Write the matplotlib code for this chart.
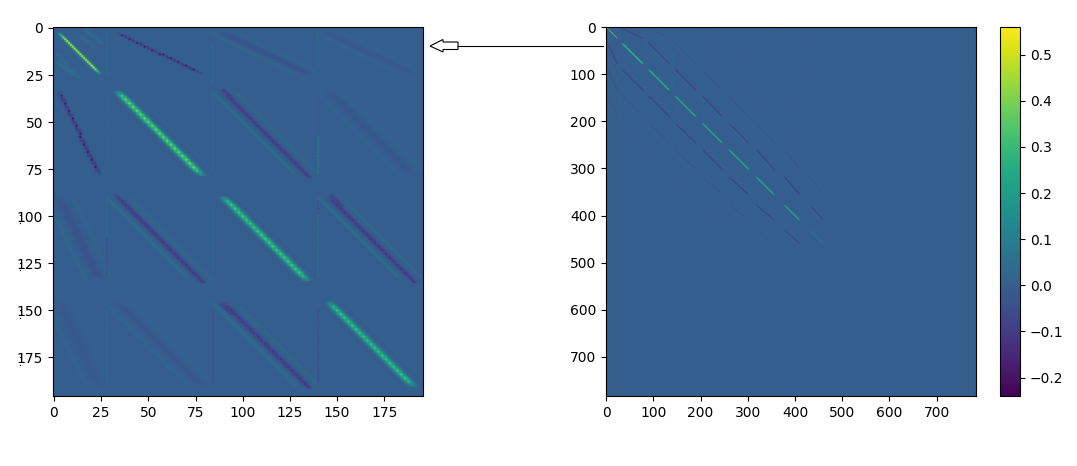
import numpy as np
import matplotlib

matplotlib.use("Agg")
import matplotlib.pyplot as plt
from matplotlib.lines import Line2D
from matplotlib.patches import Polygon

# block spans along the diagonal of the matrix
seg_start = [3, 34, 90, 146, 204, 260, 318, 378, 432]
seg_end = [24, 78, 134, 190, 246, 302, 356, 410, 460]

# peak value of the band in each block, rows then columns
band_levels = [
    [0.48, -0.19, -0.04, -0.02, -0.008, 0.00, 0.00, 0.00, 0.00],
    [-0.20, 0.41, -0.12, -0.03, -0.012, -0.006, 0.00, 0.00, 0.00],
    [-0.04, -0.12, 0.36, -0.13, -0.03, -0.012, -0.006, 0.00, 0.00],
    [-0.02, -0.03, -0.12, 0.34, -0.12, -0.03, -0.012, -0.006, 0.00],
    [-0.008, -0.012, -0.03, -0.12, 0.33, -0.12, -0.03, -0.012, 0.00],
    [0.00, -0.006, -0.012, -0.03, -0.12, 0.33, -0.12, -0.03, -0.008],
    [0.00, 0.00, -0.006, -0.012, -0.03, -0.12, 0.32, -0.12, -0.02],
    [0.00, 0.00, 0.00, -0.006, -0.012, -0.03, -0.12, 0.30, -0.10],
    [0.00, 0.00, 0.00, 0.00, -0.006, -0.008, -0.02, -0.10, 0.06],
]

# shape across a band, in columns from its centre
main_profile = [0.14, 0.45, 0.82, 1.0, 0.82, 0.45, 0.14]
first_profile = [0.35, 1.0, 0.35]
dotted_profile = [0.45, 1.0, 0.45]
near_profile = [0.28, 0.7, 1.0, 0.7, 0.28]
far_profile = [0.3, 0.6, 0.85, 1.0, 0.85, 0.6, 0.3]
checker_weights = [[1.0, 0.82], [0.82, 0.66]]
flat_weights = [[1.0, 1.0], [1.0, 1.0]]
dot_weights = [[1.0, 0.5], [0.6, 0.3]]
end_fade = [0.4, 0.65, 0.85]

# side lobes next to the bands: column offset, fraction of the peak
near_lobes = [(-7, -0.18), (-6, -0.36), (-5, -0.18), (5, -0.1), (6, -0.18), (7, -0.1)]
far_lobes = [(-8, -0.3), (-7, -0.5), (-6, -0.3), (6, -0.15), (7, -0.25), (8, -0.15)]
main_lobes = [(-6, -0.05), (6, -0.05)]

# vertical streaks: column, first row, last row, value
streaks = [
    (28, 3, 25, 0.04), (28, 30, 78, 0.012), (28, 94, 112, 0.035), (28, 112, 132, -0.04),
    (28, 150, 190, 0.02), (84, 10, 30, 0.04), (84, 36, 76, 0.03), (84, 96, 130, 0.035),
    (84, 150, 190, -0.04), (140, 3, 22, 0.03), (140, 36, 56, -0.02), (140, 58, 78, 0.08),
    (140, 92, 100, -0.04), (140, 100, 134, 0.04), (140, 150, 190, -0.04),
    (260, 5, 40, 0.02), (365, 2, 16, 0.05), (365, 20, 60, 0.02), (420, 10, 60, -0.02),
    (420, 90, 120, -0.02),
]
streak_weights = [1.0, 0.45]

# short diagonal marks: row0, row1, col0, col1, value
extra_marks = [
    (1, 8, 17, 25, 0.035), (4, 10, 14, 21, 0.025), (18, 25, 2, 10, 0.04), (20, 26, 6, 13, 0.03),
    (14, 20, 2, 7, 0.025),
    (74, 79, 130, 135, -0.10), (130, 135, 74, 79, -0.10),
    (130, 135, 186, 191, -0.11), (186, 191, 130, 135, -0.11),
    (33, 38, 90, 95, -0.09), (89, 94, 33, 38, -0.08),
    (89, 94, 147, 152, -0.09), (147, 152, 89, 94, -0.09),
]

# stray specks beside the left panel's tick labels, in pixels
speck_x = [20, 20, 20, 20, 20, 20, 20, 20]
speck_y = [215, 223, 263, 270, 310, 318, 357, 365]

xticks_left = [0, 25, 50, 75, 100, 125, 150, 175]
yticks_left = [0, 25, 50, 75, 100, 125, 150, 175]
ticks_right = [0, 100, 200, 300, 400, 500, 600, 700]
cbar_ticks = [-0.2, -0.1, 0.0, 0.1, 0.2, 0.3, 0.4, 0.5]

N = 784
CROP = 196
VMIN = -0.24
VMAX = 0.56


def add_band(mat, r0, r1, c0, c1, level, profile, lobes, weights, fade=()):
    steps = max(r1 - r0, c1 - c0)
    half = len(profile) // 2
    for k in range(steps + 1):
        r = round(r0 + (r1 - r0) * k / steps)
        c = round(c0 + (c1 - c0) * k / steps)
        edge = min(k, steps - k)
        step_level = level * fade[edge] if edge < len(fade) else level
        for off, w in enumerate(profile):
            cc = c + off - half
            value = step_level * w * weights[r % 2][cc % 2]
            if abs(value) > abs(mat[r, cc]):
                mat[r, cc] = value
        for off, frac in lobes:
            cc = c + off
            if abs(step_level * frac) > abs(mat[r, cc]):
                mat[r, cc] = step_level * frac


def build_matrix():
    mat = np.zeros((N, N))
    for i, row in enumerate(band_levels):
        for j, level in enumerate(row):
            if level == 0:
                continue
            weights = checker_weights
            if i == j:
                profile, lobes = main_profile, main_lobes
            elif abs(i - j) == 1:
                profile, lobes = near_profile, near_lobes
            else:
                profile, lobes = far_profile, far_lobes
            if i == 0 and j == 0:
                profile, lobes, weights = first_profile, [], flat_weights
            if (i, j) in [(0, 1), (1, 0)]:
                profile, lobes, weights = dotted_profile, [], dot_weights
            add_band(mat, seg_start[i], seg_end[i], seg_start[j], seg_end[j], level,
                     profile, lobes, weights, end_fade)
    for r0, r1, c0, c1, value in extra_marks:
        add_band(mat, r0, r1, c0, c1, value, [0.6, 1.0, 0.6], [], flat_weights)
    for col, r0, r1, value in streaks:
        mat[r0:r1, col] += value * np.array([streak_weights[r % 2] for r in range(r0, r1)])
    return mat


matrix = build_matrix()

fig = plt.figure(figsize=(10.77, 4.66), dpi=100)
W, H = 1077, 466


def px_axes(x0, y0, x1, y1):
    return fig.add_axes([x0 / W, 1 - y1 / H, (x1 - x0) / W, (y1 - y0) / H])


ax_left = px_axes(53, 27, 423, 396)
ax_right = px_axes(606, 27, 976, 396)
cax = px_axes(1000, 27, 1020, 396)

ax_left.imshow(matrix[:CROP, :CROP], cmap="viridis", vmin=VMIN, vmax=VMAX, aspect="auto")
ax_left.set_xticks(xticks_left)
ax_left.set_yticks(yticks_left)

im = ax_right.imshow(matrix, cmap="viridis", vmin=VMIN, vmax=VMAX, aspect="auto")
ax_right.set_xticks(ticks_right)
ax_right.set_yticks(ticks_right)

cbar = fig.colorbar(im, cax=cax)
cbar.set_ticks(cbar_ticks)

# hollow arrow between the two panels, placed in pixels
arrow_px = [(430, 46), (443, 39.5), (443, 42), (458, 42), (458, 49.5), (443, 49.5), (443, 52)]
arrow_fig = [(x / W, 1 - y / H) for x, y in arrow_px]
fig.add_artist(Polygon(arrow_fig, closed=True, facecolor="white", edgecolor="black",
                       linewidth=0.8, transform=fig.transFigure))
fig.add_artist(Line2D([458 / W, 603 / W], [1 - 46 / H, 1 - 46 / H], color="black",
                      linewidth=0.8, transform=fig.transFigure))
fig.add_artist(Line2D([x / W for x in speck_x], [1 - y / H for y in speck_y], linestyle="none",
                      marker="s", markersize=0.9, markeredgewidth=0, color="black",
                      transform=fig.transFigure))

plt.savefig("out.png", dpi=100)
plt.close(fig)
